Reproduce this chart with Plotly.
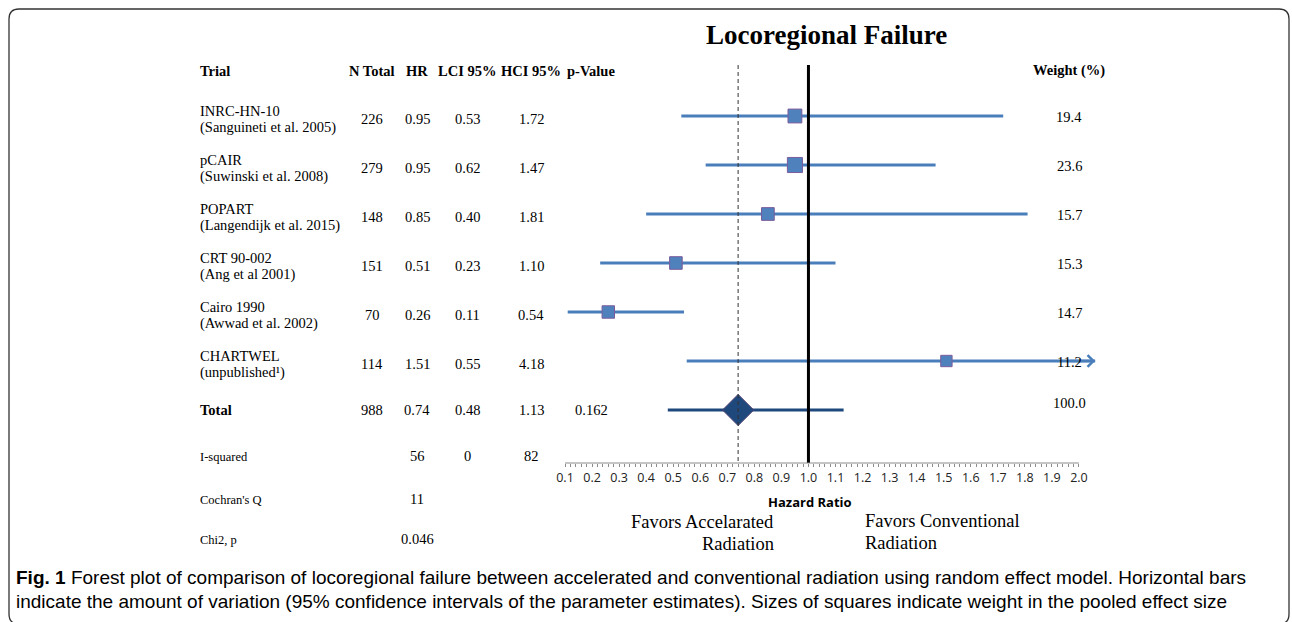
import plotly.graph_objects as go

# ---------------- data ----------------
trial_names = ["INRC-HN-10", "pCAIR", "POPART", "CRT 90-002", "Cairo 1990", "CHARTWEL"]
trial_refs = ["(Sanguineti et al. 2005)", "(Suwinski et al. 2008)", "(Langendijk et al. 2015)",
              "(Ang et al 2001)", "(Awwad et al. 2002)", "(unpublished¹)"]
n_total = [226, 279, 148, 151, 70, 114]
hr = [0.95, 0.95, 0.85, 0.51, 0.26, 1.51]
lci = [0.53, 0.62, 0.40, 0.23, 0.11, 0.55]
hci = [1.72, 1.47, 1.81, 1.10, 0.54, 4.18]
weight = [19.4, 23.6, 15.7, 15.3, 14.7, 11.2]

total_label = "Total"
total_n = 988
total_hr = 0.74
total_lci = 0.48
total_hci = 1.13
total_p = "0.162"
total_weight = 100.0

stats_labels = ["I-squared", "Cochran's Q", "Chi2, p"]
stats_est = ["56", "11", "0.046"]
stats_lo = ["0", "", ""]
stats_hi = ["82", "", ""]

headers = ["Trial", "N Total", "HR", "LCI 95%", "HCI 95%", "p-Value"]
weight_header = "Weight (%)"
tick_vals = [0.1, 0.2, 0.3, 0.4, 0.5, 0.6, 0.7, 0.8, 0.9, 1.0,
             1.1, 1.2, 1.3, 1.4, 1.5, 1.6, 1.7, 1.8, 1.9, 2.0]
tick_labels = ["0.1", "0.2", "0.3", "0.4", "0.5", "0.6", "0.7", "0.8", "0.9", "1.0",
               "1.1", "1.2", "1.3", "1.4", "1.5", "1.6", "1.7", "1.8", "1.9", "2.0"]
minor_vals = [round(0.1 + 0.02 * k, 2) for k in range(96)]

title = "Locoregional Failure"
x_title = "Hazard Ratio"
favors_left = ["Favors Accelarated", "Radiation"]
favors_right = ["Favors Conventional", "Radiation"]
caption = ["<b>Fig. 1</b> Forest plot of comparison of locoregional failure between accelerated and conventional "
           "radiation using random effect model. Horizontal bars",
           "indicate the amount of variation (95% confidence intervals of the parameter estimates). "
           "Sizes of squares indicate weight in the pooled effect size"]

# ---------------- geometry / style ----------------
W, H = 1292, 622
ROW0_PX, ROW_PX = 116, 49          # pixel of first row, row spacing
AXIS_CAP = 2.06                    # CI beyond axis shown with an arrow
X_RANGE = [0.06, 2.10]
PX_PER_UNIT = 270.5
X0_PX = 565 - (0.1 - X_RANGE[0]) * PX_PER_UNIT
X1_PX = 565 + (X_RANGE[1] - 0.1) * PX_PER_UNIT

def fx(px):
    return px / W

def fy(py):
    return 1 - py / H

SERIF = "Liberation Serif"
SANS = "Open Sans"
CI_COLOR = "#4A7EBB"
SQ_COLOR = "#4F81BD"
SQ_EDGE = "#7A5C9C"
TOT_COLOR = "#1F497D"

COL_X = {"Trial": 198, "N Total": 372, "HR": 417, "LCI 95%": 467, "HCI 95%": 531, "p-Value": 591}
WEIGHT_X = 1069
HEADER_PX = 71
STATS_PX = [457, 500, 540]
AXIS_PX = 463
LINE_TOP_PX = 65

rows = list(range(len(trial_names)))
total_row = len(trial_names)

fig = go.Figure()

# CI lines for trials
for i in rows:
    fig.add_trace(go.Scatter(
        x=[lci[i], min(hci[i], AXIS_CAP)], y=[i, i], mode="lines",
        line=dict(color=CI_COLOR, width=3), hoverinfo="skip", showlegend=False))

# squares
fig.add_trace(go.Scatter(
    x=hr, y=rows, mode="markers",
    marker=dict(symbol="square", size=[8 + 0.3 * w for w in weight], color=SQ_COLOR, opacity=1,
                line=dict(color=SQ_EDGE, width=1)),
    showlegend=False, hoverinfo="skip"))

# total
fig.add_trace(go.Scatter(
    x=[total_lci, total_hci], y=[total_row, total_row], mode="lines",
    line=dict(color=TOT_COLOR, width=3), showlegend=False, hoverinfo="skip"))
fig.add_trace(go.Scatter(
    x=[total_hr], y=[total_row], mode="markers",
    marker=dict(symbol="diamond", size=24, color=TOT_COLOR, opacity=1,
                line=dict(color="#4B3F73", width=1)),
    showlegend=False, hoverinfo="skip"))

ann = []
# arrows for CIs beyond axis
for i in rows:
    if hci[i] > AXIS_CAP:
        ann.append(dict(x=AXIS_CAP, y=i, ax=AXIS_CAP - 0.1, ay=i, xref="x", yref="y",
                        axref="x", ayref="y", text="", showarrow=True, arrowhead=4,
                        arrowsize=0.9, arrowwidth=2.5, arrowcolor=CI_COLOR, standoff=0))

def txt(text, x_px, y, yref="y", size=14.5, bold=False, xanchor="center", font=SERIF, yshift=0):
    ann.append(dict(x=fx(x_px), y=y, xref="paper", yref=yref, text=(f"<b>{text}</b>" if bold else text),
                    showarrow=False, xanchor=xanchor, yanchor="middle", yshift=yshift,
                    font=dict(family=font, size=size, color="black")))

# headers
for h in headers:
    txt(h, COL_X[h], fy(HEADER_PX), yref="paper", bold=True,
        xanchor="left" if h == "Trial" else "center")
txt(weight_header, WEIGHT_X, fy(HEADER_PX), yref="paper", bold=True)

# trial rows
for i in rows:
    txt(trial_names[i], COL_X["Trial"], i, xanchor="left", yshift=5)
    txt(trial_refs[i], COL_X["Trial"], i, xanchor="left", yshift=-11)
    txt(str(n_total[i]), COL_X["N Total"], i, yshift=-3)
    txt(f"{hr[i]:.2f}", COL_X["HR"], i, yshift=-3)
    txt(f"{lci[i]:.2f}", COL_X["LCI 95%"], i, yshift=-3)
    txt(f"{hci[i]:.2f}", COL_X["HCI 95%"], i, yshift=-3)
    txt(f"{weight[i]:.1f}", WEIGHT_X, i, yshift=-1)

# total row
txt(total_label, COL_X["Trial"], total_row, xanchor="left", bold=True)
txt(str(total_n), COL_X["N Total"], total_row)
txt(f"{total_hr:.2f}", COL_X["HR"], total_row)
txt(f"{total_lci:.2f}", COL_X["LCI 95%"], total_row)
txt(f"{total_hci:.2f}", COL_X["HCI 95%"], total_row)
txt(total_p, COL_X["p-Value"], total_row)
txt(f"{total_weight:.1f}", WEIGHT_X, total_row, yshift=7)

# stats rows
for lab, e, lo, hi, py in zip(stats_labels, stats_est, stats_lo, stats_hi, STATS_PX):
    txt(lab, COL_X["Trial"], fy(py), yref="paper", xanchor="left", size=12.5)
    txt(e, COL_X["HR"], fy(py - 1), yref="paper")
    if lo:
        txt(lo, COL_X["LCI 95%"], fy(py - 1), yref="paper")
    if hi:
        txt(hi, COL_X["HCI 95%"], fy(py - 1), yref="paper")

# title, axis title, favors
txt(title, 826, fy(35), yref="paper", size=27, bold=True)
txt(x_title, 810, fy(502), yref="paper", size=13, bold=True, font=SANS)
txt(favors_left[0], 776, fy(522), yref="paper", size=18.5, xanchor="right")
txt(favors_left[1], 776, fy(544), yref="paper", size=18.5, xanchor="right")
txt(favors_right[0], 863, fy(521), yref="paper", size=18.5, xanchor="left")
txt(favors_right[1], 863, fy(543), yref="paper", size=18.5, xanchor="left")

# caption
txt(caption[0], 14, fy(577), yref="paper", size=19, xanchor="left", font="Liberation Sans")
txt(caption[1], 14, fy(601), yref="paper", size=19, xanchor="left", font="Liberation Sans")

shapes = [
    # reference line at HR = 1
    dict(type="line", xref="x", yref="paper", x0=1.0, x1=1.0, y0=fy(LINE_TOP_PX), y1=fy(AXIS_PX),
         line=dict(color="black", width=3)),
    # pooled estimate line
    dict(type="line", xref="x", yref="paper", x0=total_hr, x1=total_hr, y0=fy(LINE_TOP_PX), y1=fy(AXIS_PX),
         line=dict(color="#333333", width=1, dash="4px,3px")),
    # axis line
    dict(type="line", xref="x", yref="paper", x0=tick_vals[0], x1=tick_vals[-1], y0=fy(AXIS_PX), y1=fy(AXIS_PX),
         line=dict(color="#8c8c8c", width=1)),
    # rounded frame
    dict(type="path", xref="paper", yref="paper",
         path=(f"M {fx(9)},{fy(19)} Q {fx(9)},{fy(9)} {fx(19)},{fy(9)} "
               f"L {fx(1279)},{fy(9)} Q {fx(1289)},{fy(9)} {fx(1289)},{fy(19)} "
               f"L {fx(1289)},{fy(614)} Q {fx(1289)},{fy(624)} {fx(1279)},{fy(624)} "
               f"L {fx(19)},{fy(624)} Q {fx(9)},{fy(624)} {fx(9)},{fy(614)} Z"),
         line=dict(color="#333333", width=1.3)),
]

fig.update_layout(
    width=W, height=H, margin=dict(l=0, r=0, t=0, b=0),
    paper_bgcolor="white", plot_bgcolor="rgba(0,0,0,0)",
    showlegend=False, annotations=ann, shapes=shapes,
    xaxis=dict(domain=[fx(X0_PX), fx(X1_PX)], range=X_RANGE, anchor="free", position=fy(AXIS_PX),
               showline=False, showgrid=False, zeroline=False,
               tickmode="array", tickvals=tick_vals, ticktext=tick_labels,
               ticks="outside", ticklen=3, tickcolor="#8c8c8c", tickwidth=1,
               tickfont=dict(family=SANS, size=12.5, color="#222222"),
               minor=dict(tickmode="array", tickvals=minor_vals, ticks="outside", ticklen=3,
                          tickcolor="#8c8c8c", tickwidth=1, showgrid=False)),
    yaxis=dict(domain=[0, 1], range=[(H - ROW0_PX) / ROW_PX, -ROW0_PX / ROW_PX],
               visible=False, showgrid=False, zeroline=False),
)

fig.write_html("out.html")
